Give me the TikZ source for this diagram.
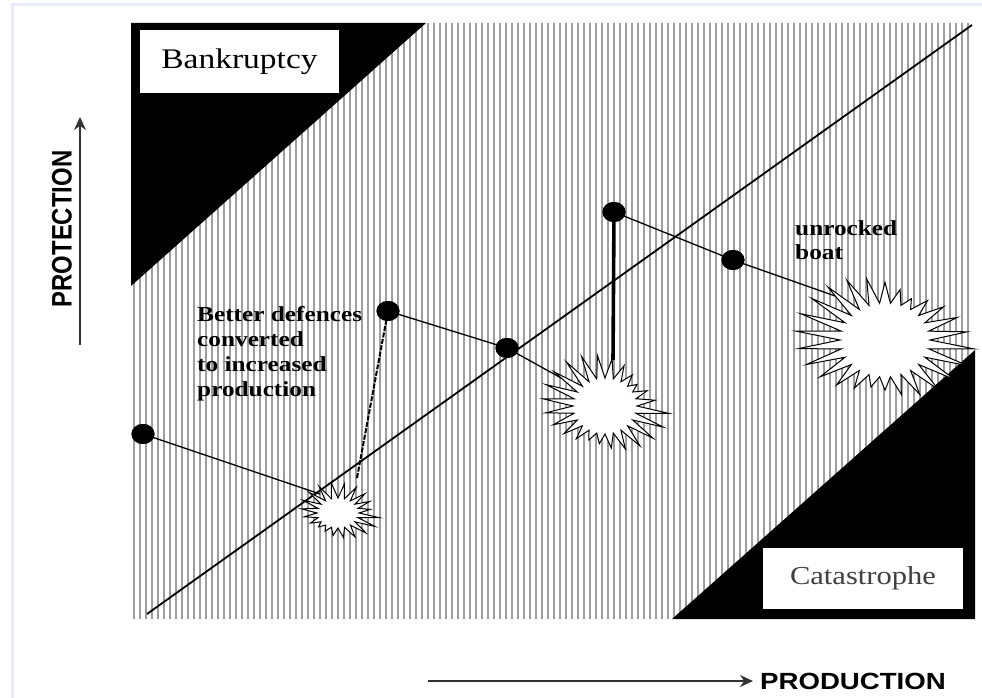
\documentclass[tikz,border=0pt]{standalone}
\usepackage{fontspec}
\setmainfont{Liberation Serif}
\newfontfamily\wideserif[FakeStretch=1.18]{Liberation Serif}
\newfontfamily\axisfont{Liberation Sans}
\newfontfamily\wideaxisfont[FakeStretch=1.18]{Liberation Sans}
\usetikzlibrary{arrows.meta,shapes.geometric}
\tikzset{
  frameline/.style={draw=black!22!blue!8!white, line width=2.4bp},
  hatchline/.style={draw=black!38, line width=2bp},
  blackzone/.style={fill=black},
  diag/.style={draw=black, line width=1.8bp},
  dot/.style={ellipse, fill=black, minimum width=23bp, minimum height=20bp, inner sep=0},
  link/.style={draw=black, line width=1.3bp},
  dashlink/.style={draw=black, line width=2bp, dash pattern=on 5bp off 1.5bp},
  thicklink/.style={draw=black, line width=3.6bp},
  burstline/.style={draw=black, fill=white, line width=1bp, line join=miter, miter limit=20},
  zonebox/.style={fill=white, inner sep=0},
  note/.style={inner sep=0, align=left, font=\wideserif\bfseries\fontsize{21.5}{25}\selectfont},
  axisarrow/.style={draw=black!80, line width=1.6bp, -{Stealth[length=13bp, width=12bp]}},
}
\newcommand\drawburst[6]{% name, cx, cy, rx, ry, last index
  \coordinate (#1) at (#2,#3);
  \begin{scope}[shift={(#2,#3)}]
    \draw[burstline] (#4,0)
      \foreach \i [evaluate=\i as \f using {1+mod(\i,2)*(0.25+0.75*abs(sin(\i*83.7)))},
                   evaluate=\i as \ang using {\i*(360/(#6+1))}] in {1,...,#6}
        { -- ({#4*\f*cos(\ang)},{#5*\f*sin(\ang)}) } -- cycle;
  \end{scope}
}
\begin{document}
\begin{tikzpicture}[x=1bp, y=-1bp]
  \useasboundingbox (0,0) rectangle (982,698);
  \fill[white] (0,0) rectangle (982,698);
  % outer frame
  \draw[frameline] (12.5,698) -- (12.5,4.5) -- (982,4.5);
  % hatching
  \foreach \x in {134,140,...,973}
    \draw[hatchline] (\x,23) -- (\x,619);
  % black zones
  \fill[blackzone] (131,23) -- (426,23) -- (131,286) -- cycle;
  \fill[blackzone] (672,619) -- (975,619) -- (975,350) -- cycle;
  % main diagonal
  \coordinate (dlow) at (147,614);
  \coordinate (dhigh) at (972,25);
  \draw[diag] (dlow) -- (dhigh);
  % points
  \node[dot] (d1) at (143,434) {};
  \node[dot] (d2) at (388,311) {};
  \node[dot] (d3) at (507,348) {};
  \node[dot] (d4) at (614,212) {};
  \node[dot] (d5) at (733,260) {};
  % connector end points at bursts
  \coordinate (s1in) at (320,494);
  \coordinate (s1out) at (357,478);
  \coordinate (s2in) at (572,384);
  \coordinate (s2out) at (613,360);
  \coordinate (s3in) at (838,297);
  % connectors
  \draw[link] (d1.center) -- (s1in);
  \draw[dashlink] (s1out) -- (d2.center);
  \draw[link] (d2.center) -- (d3.center) -- (s2in);
  \draw[thicklink] (s2out) -- (d4.center);
  \draw[link] (d4.center) -- (d5.center) -- (s3in);
  % bursts
  \drawburst{s1}{338}{513}{21}{15}{39}
  \drawburst{s2}{605}{406}{32}{28}{47}
  \drawburst{s3}{885}{340}{45}{37}{51}
  % redraw dots on top
  \node[dot] at (d1) {};
  \node[dot] at (d2) {};
  \node[dot] at (d3) {};
  \node[dot] at (d4) {};
  \node[dot] at (d5) {};
  % zone labels
  \node[zonebox, minimum width=199bp, minimum height=63bp] (bank) at (239.5,61.5)
    {\wideserif\fontsize{28.5}{30}\selectfont Bankruptcy};
  \node[zonebox, minimum width=200bp, minimum height=61bp, text=black!75] (cat) at (863,578.5)
    {\wideserif\fontsize{26}{28}\selectfont Catastrophe};
  % notes
  \node[note, anchor=north west] (better) at (197,306)
    {Better defences\\converted\\to increased\\production};
  \node[note, anchor=north west] (unrocked) at (795,220)
    {unrocked\\boat};
  % axes
  \node[inner sep=0, rotate=90] (prot) at (62,229)
    {\scalebox{1}[1.18]{\axisfont\bfseries\fontsize{24}{26}\selectfont PROTECTION}};
  \coordinate (pbot) at (80,345);
  \coordinate (ptop) at (80,117);
  \draw[axisarrow] (pbot) -- (ptop);
  \node[inner sep=0] (prod) at (853,681)
    {\wideaxisfont\bfseries\fontsize{23.5}{26}\selectfont PRODUCTION};
  \coordinate (hstart) at (428,681);
  \draw[axisarrow] (hstart) -- ([xshift=-7bp]prod.west);
\end{tikzpicture}
\end{document}
